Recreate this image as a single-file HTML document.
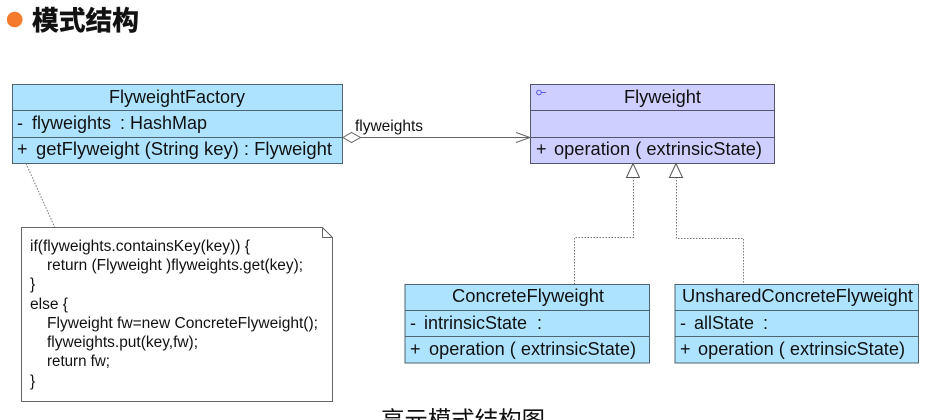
<!DOCTYPE html>
<html><head><meta charset="utf-8">
<style>
html,body{margin:0;padding:0;background:#fff;width:932px;height:420px;overflow:hidden}
svg{display:block}
text{font-family:"Liberation Sans","Noto Sans CJK SC",sans-serif;fill:#111}
.t{font-size:18px}
.n{font-size:15.5px}
.b{fill:#aee3ff;stroke:#4f6672;stroke-width:1}
.p{fill:#cfcfff;stroke:#55556e;stroke-width:1}
.c{fill:none;stroke:#777;stroke-width:1;stroke-dasharray:1.5 1.5}
</style></head><body>
<svg width="932" height="420" viewBox="0 0 932 420" xmlns="http://www.w3.org/2000/svg">
<circle cx="14.7" cy="19.5" r="7.8" fill="#f47a2c"/>
<text x="32" y="30" font-size="26.5" font-weight="700" stroke="#111" stroke-width="0.5" textLength="107" lengthAdjust="spacingAndGlyphs">模式结构</text>

<!-- Factory -->
<rect class="b" x="12.5" y="84.5" width="330" height="79"/>
<path d="M12.5 110.5H342.5M12.5 137.5H342.5" stroke="#4f6672" fill="none"/>
<text class="t" x="109" y="103" textLength="136" lengthAdjust="spacingAndGlyphs">FlyweightFactory</text>
<text class="t" x="17" y="129">-</text>
<text class="t" x="32" y="129" textLength="79" lengthAdjust="spacingAndGlyphs">flyweights</text>
<text class="t" x="120" y="129">:</text>
<text class="t" x="130" y="129" textLength="77" lengthAdjust="spacingAndGlyphs">HashMap</text>
<text class="t" x="17" y="155">+</text>
<text class="t" x="36" y="155" textLength="296" lengthAdjust="spacingAndGlyphs">getFlyweight (String key)  : Flyweight</text>

<!-- Flyweight -->
<rect class="p" x="530.5" y="84.5" width="244" height="79"/>
<path d="M530.5 110.5H774.5M530.5 137.5H774.5" stroke="#55556e" fill="none"/>
<circle cx="539" cy="92.5" r="2.3" fill="none" stroke="#5050e0" stroke-width="0.9"/>
<path d="M541.5 92.5H546" stroke="#5050e0" stroke-width="0.9"/>
<text class="t" x="624" y="103" textLength="77" lengthAdjust="spacingAndGlyphs">Flyweight</text>
<text class="t" x="536" y="155">+</text>
<text class="t" x="554" y="155" textLength="208" lengthAdjust="spacingAndGlyphs">operation ( extrinsicState)</text>

<!-- Association -->
<text x="355" y="131" font-size="16" textLength="68" lengthAdjust="spacingAndGlyphs">flyweights</text>
<path d="M360 137.5H530" stroke="#666" fill="none"/>
<path d="M343 137.5L351.5 132.5L360.5 137.5L351.5 142.5Z" fill="#fff" stroke="#666"/>
<path d="M516 132.5L530 137.5L516 142.5" fill="none" stroke="#666"/>

<!-- Realizations -->
<path class="c" d="M633.5 177V237.5H574.5V284"/>
<path class="c" d="M676.5 177V238.5H743.5V284"/>
<path d="M633 163.5L626.5 177.5H639.5Z" fill="#fff" stroke="#555"/>
<path d="M676 163.5L669.5 177.5H682.5Z" fill="#fff" stroke="#555"/>

<!-- Concrete -->
<rect class="b" x="405" y="284.5" width="244.5" height="78.5"/>
<path d="M405 310.5H649.5M405 336.5H649.5" stroke="#4f6672" fill="none"/>
<text class="t" x="452" y="302" textLength="152" lengthAdjust="spacingAndGlyphs">ConcreteFlyweight</text>
<text class="t" x="410" y="329">-</text>
<text class="t" x="424" y="329" textLength="103" lengthAdjust="spacingAndGlyphs">intrinsicState</text>
<text class="t" x="537" y="329">:</text>
<text class="t" x="410" y="355">+</text>
<text class="t" x="429" y="355" textLength="207" lengthAdjust="spacingAndGlyphs">operation ( extrinsicState)</text>

<!-- Unshared -->
<rect class="b" x="675" y="284.5" width="243.5" height="78.5"/>
<path d="M675 310.5H918.5M675 336.5H918.5" stroke="#4f6672" fill="none"/>
<text class="t" x="682" y="302" textLength="231" lengthAdjust="spacingAndGlyphs">UnsharedConcreteFlyweight</text>
<text class="t" x="680" y="329">-</text>
<text class="t" x="694" y="329" textLength="60" lengthAdjust="spacingAndGlyphs">allState</text>
<text class="t" x="763" y="329">:</text>
<text class="t" x="680" y="355">+</text>
<text class="t" x="698" y="355" textLength="207" lengthAdjust="spacingAndGlyphs">operation ( extrinsicState)</text>

<!-- Note -->
<path d="M21.5 227.5H322.5L332.5 237.5V401.5H21.5Z" fill="#fff" stroke="#666"/>
<path d="M322.5 227.5V237.5H332.5" fill="none" stroke="#666"/>
<path class="c" d="M26 163.5L55.5 229"/>
<text class="n" x="30" y="251" textLength="220" lengthAdjust="spacingAndGlyphs">if(flyweights.containsKey(key)) {</text>
<text class="n" x="47" y="270" textLength="256" lengthAdjust="spacingAndGlyphs">return (Flyweight )flyweights.get(key);</text>
<text class="n" x="30" y="289">}</text>
<text class="n" x="30" y="309" textLength="38" lengthAdjust="spacingAndGlyphs">else {</text>
<text class="n" x="47" y="328" textLength="271" lengthAdjust="spacingAndGlyphs">Flyweight fw=new ConcreteFlyweight();</text>
<text class="n" x="47" y="347" textLength="151" lengthAdjust="spacingAndGlyphs">flyweights.put(key,fw);</text>
<text class="n" x="47" y="366" textLength="63" lengthAdjust="spacingAndGlyphs">return fw;</text>
<text class="n" x="30" y="386">}</text>

<!-- Caption -->
<text x="381" y="428" font-size="23.5" textLength="164" lengthAdjust="spacingAndGlyphs">享元模式结构图</text>
</svg>
</body></html>
